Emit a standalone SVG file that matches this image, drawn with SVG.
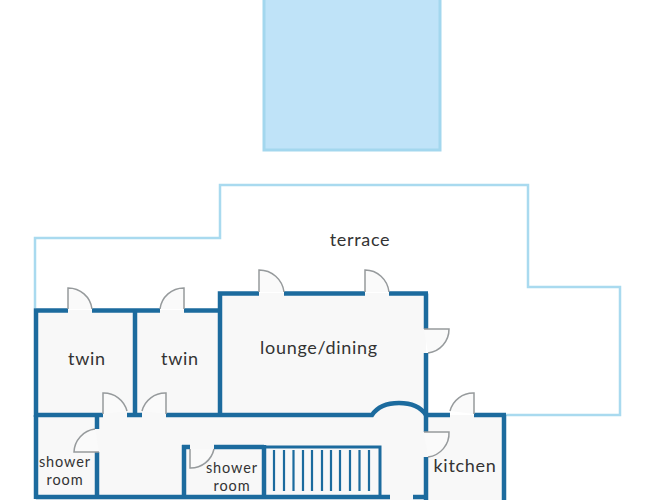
<svg xmlns="http://www.w3.org/2000/svg" width="651" height="500" viewBox="0 0 651 500">
<style>
.wall{fill:none;stroke:#1c6b9e;stroke-width:4.5;stroke-linecap:butt}
.thin{fill:none;stroke:#1c6b9e;stroke-width:3}
.tread{fill:none;stroke:#1c6b9e;stroke-width:2.2}
.door{fill:#fafafa;stroke:#969a9c;stroke-width:1.5}
.floor{fill:#f8f8f8;stroke:none}
.lbl{font-family:"Lato","Noto Sans",sans-serif;fill:#333;text-anchor:middle;font-size:18px;letter-spacing:.7px}
.sm{font-size:14.500px;letter-spacing:.9px}
</style>
<rect width="651" height="500" fill="#fff"/>
<g id="pool"><rect x="264" y="-3" width="176" height="153" fill="#bfe3f8" stroke="#a3d7ee" stroke-width="3"/></g>
<g id="terrace"><path d="M35 308V238H220V185H528V287H620V415H505" fill="none" stroke="#a9daef" stroke-width="2.5"/><text class="lbl" x="360" y="246">terrace</text></g>
<g id="floors"><path class="floor" d="M35 310H220V293H426V415H505V500H35Z"/></g>
<g id="twin1"><path class="wall" d="M68 310.500H36V417M92 310.500H160M135 310.500V415"/><text class="lbl" x="87" y="365">twin</text></g>
<g id="twin2"><path class="wall" d="M184 310.500H220"/><text class="lbl" x="180" y="365">twin</text></g>
<g id="lounge"><path class="wall" d="M220 415V293.500H259M284 293.500H365M389 293.500H428M426 293.500V329M426 353V432"/><text class="lbl" x="319" y="354">lounge/dining</text>
<path class="wall" d="M36 415H103M127 415H142M166 415H372Q380 403 399 403Q418 403 426 415"/></g>
<g id="shower1"><path class="wall" d="M36 415V499M97 497V452M97 429V415"/><text class="lbl sm" x="65" y="467">shower</text><text class="lbl sm" x="65" y="485">room</text></g>
<g id="shower2"><path class="wall" d="M184 497V445M182 447H190M214 447H264M264 445V497"/><text class="lbl sm" x="232" y="473">shower</text><text class="lbl sm" x="232" y="491">room</text></g>
<g id="stairs"><path class="thin" d="M264 447H380V497"/>
<path class="tread" d="M274 450V491M284 450V491M293.500 450V491M303 450V491M312 450V491M322 450V491M331 450V491M340 450V491M350 450V491M359.500 450V491M369 450V491"/></g>
<g id="kitchen"><path class="wall" d="M426 415H450M474 415H506M504 415V500M426 457V500"/><text class="lbl" x="465" y="472">kitchen</text></g>
<g id="bottom"><path class="wall" d="M36 497H390M413 497H426"/></g>
<g id="connectors">
<path class="door" d="M68 309V288A24 24 0 0 1 92 309"/>
<path class="door" d="M184 309V288A24 24 0 0 0 160 309"/>
<path class="door" d="M259 292V270A25 25 0 0 1 284 292"/>
<path class="door" d="M365 292V270A24 25 0 0 1 389 292"/>
<path class="door" d="M103 414V393A24 24 0 0 1 127 411"/>
<path class="door" d="M166 414V393A24 24 0 0 0 142 411"/>
<path class="door" d="M474 414V393A24 24 0 0 0 450 411"/>
<path class="door" d="M424 329H449A24 24 0 0 1 428 353"/>
<path class="door" d="M424 432H449A24 24 0 0 1 428 457"/>
<path class="door" d="M99 452H74A24 24 0 0 1 95 429"/>
<path class="door" d="M190 449V468A24 24 0 0 0 214 449"/>
</g>
</svg>
